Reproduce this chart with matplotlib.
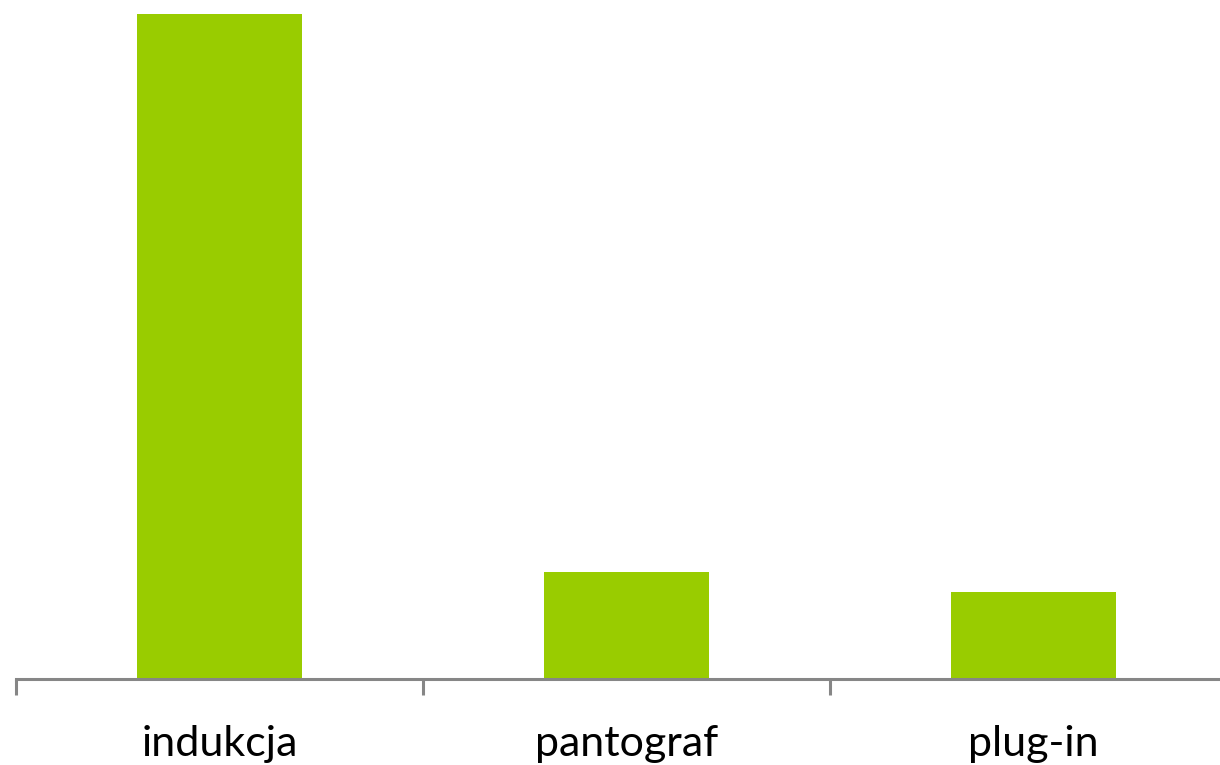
import matplotlib.pyplot as plt
import numpy as np

categories = ["indukcja", "pantograf", "plug-in"]
values = [76, 12.2, 9.95]

fig = plt.figure(figsize=(12.2, 7.65), dpi=100)
# the category axis runs a little past the right edge of the picture
ax = fig.add_axes([16 / 1220, 86 / 765, 1221 / 1220, (679 - 14) / 765])

x = np.arange(len(categories))
ax.bar(x, values, width=0.403, color="#99CC00", zorder=2)

ax.set_xlim(-0.5, len(categories) - 0.5)
ax.set_ylim(0, 76)

for side in ["top", "right", "left"]:
    ax.spines[side].set_visible(False)
ax.spines["bottom"].set_color("#868686")
ax.spines["bottom"].set_linewidth(2.2)

ax.set_yticks([])
ax.set_xticks(x)
ax.set_xticklabels(categories, fontsize=31, family=["Lato", "DejaVu Sans"])
ax.tick_params(axis="x", which="major", length=0, pad=33)
ax.set_xticks(np.arange(-0.5, len(categories)), minor=True)
ax.tick_params(axis="x", which="minor", length=11.5, width=2.2, color="#868686")

fig.savefig("out.png", dpi=100)
